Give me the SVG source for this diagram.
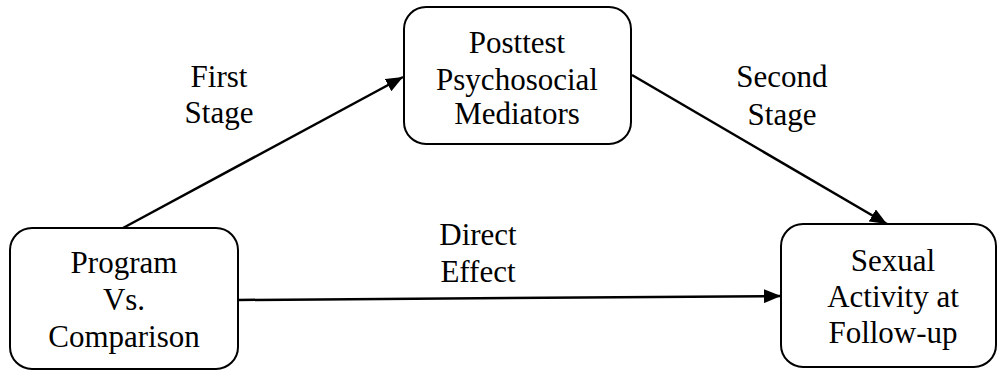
<svg xmlns="http://www.w3.org/2000/svg" width="998" height="371" viewBox="0 0 998 371">
<style>
.box{fill:#fff;stroke:#000;stroke-width:2}
.t{font-family:'Liberation Serif','Times New Roman','DejaVu Serif',serif;font-size:31px;fill:#000;text-anchor:middle}
.c{stroke:#000;stroke-width:2.5;fill:none;marker-end:url(#ah)}
</style>
<defs>
<marker id="ah" markerUnits="userSpaceOnUse" markerWidth="18" markerHeight="14" refX="17" refY="7" orient="auto">
<path d="M0,0 L17,7 L0,14 Z" fill="#000"/>
</marker>
</defs>
<rect width="998" height="371" fill="#fff"/>
<g id="connectors">
<line class="c" x1="123" y1="228" x2="403" y2="77"/>
<line class="c" x1="632" y1="75" x2="887" y2="224"/>
<line class="c" x1="238" y1="300" x2="781" y2="296"/>
</g>
<g id="node-program">
<rect class="box" x="10" y="228" width="228" height="141" rx="22"/>
<text class="t" x="124" y="273">Program</text>
<text class="t" x="124" y="310">Vs.</text>
<text class="t" x="124" y="347">Comparison</text>
</g>
<g id="node-mediators">
<rect class="box" x="404" y="7" width="227" height="137" rx="22"/>
<text class="t" x="517" y="53">Posttest</text>
<text class="t" x="517" y="90">Psychosocial</text>
<text class="t" x="517" y="124">Mediators</text>
</g>
<g id="node-outcome">
<rect class="box" x="781" y="224" width="215" height="143" rx="22"/>
<text class="t" x="893" y="271">Sexual</text>
<text class="t" x="893" y="307">Activity at</text>
<text class="t" x="893" y="343">Follow-up</text>
</g>
<g id="labels">
<text class="t" x="219" y="87">First</text>
<text class="t" x="219" y="123">Stage</text>
<text class="t" x="782" y="87">Second</text>
<text class="t" x="782" y="125">Stage</text>
<text class="t" x="478" y="245">Direct</text>
<text class="t" x="478" y="282">Effect</text>
</g>
</svg>
